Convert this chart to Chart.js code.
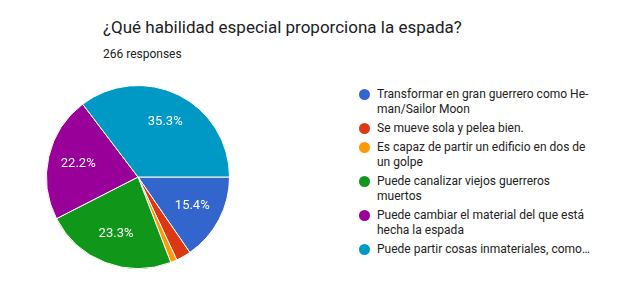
<!DOCTYPE html>
<html><head><meta charset="utf-8">
<script src="https://cdn.jsdelivr.net/npm/chart.js@4/dist/chart.umd.min.js"></script>
<style>
html,body{margin:0;padding:0;background:#fff;width:630px;height:293px;overflow:hidden;font-family:Roboto,Arial,sans-serif;}
#title{position:absolute;left:103px;top:17px;font-size:17px;color:#202124;white-space:nowrap;}
#sub{position:absolute;left:103px;top:47px;font-size:12px;color:#202124;}
#wrap{position:absolute;left:46px;top:85px;width:184px;height:184px;}
#legend{position:absolute;left:359px;top:87px;font-size:12px;color:#222;}
.item{position:relative;padding-left:18px;line-height:15px;margin-bottom:4px;white-space:nowrap;}
.dot{position:absolute;left:0;top:2px;width:11px;height:11px;border-radius:50%;}
</style></head>
<body>
<div id="title">¿Qué habilidad especial proporciona la espada?</div>
<div id="sub">266 responses</div>
<div id="wrap"><canvas id="c"></canvas></div>
<div id="legend"></div>
<script>
const categories = [
  "Transformar en gran guerrero como He-man/Sailor Moon",
  "Se mueve sola y pelea bien.",
  "Es capaz de partir un edificio en dos de un golpe",
  "Puede canalizar viejos guerreros muertos",
  "Puede cambiar el material del que está hecha la espada",
  "Puede partir cosas inmateriales, como…"
];
const legendLines = [
  ["Transformar en gran guerrero como He-", "man/Sailor Moon"],
  ["Se mueve sola y pelea bien."],
  ["Es capaz de partir un edificio en dos de", "un golpe"],
  ["Puede canalizar viejos guerreros", "muertos"],
  ["Puede cambiar el material del que está", "hecha la espada"],
  ["Puede partir cosas inmateriales, como…"]
];
const counts = [41, 7, 3, 62, 59, 94];
const colors = ["#3366cc", "#dc3912", "#ff9900", "#109618", "#990099", "#0099c6"];

const lg = document.getElementById('legend');
legendLines.forEach((lines, i) => {
  const d = document.createElement('div');
  d.className = 'item';
  d.innerHTML = '<span class="dot" style="background:' + colors[i] + '"></span>' + lines.join('<br>');
  lg.appendChild(d);
});

const pctPlugin = {
  id: 'pct',
  afterDatasetsDraw(chart) {
    const ctx = chart.ctx;
    const meta = chart.getDatasetMeta(0);
    const data = chart.data.datasets[0].data;
    const total = data.reduce((a, b) => a + b, 0);
    ctx.save();
    ctx.font = '13px Roboto, Arial, sans-serif';
    ctx.fillStyle = '#fff';
    ctx.textAlign = 'center';
    ctx.textBaseline = 'middle';
    meta.data.forEach((arc, i) => {
      const p = data[i] / total * 100;
      if (p < 5) return;
      const mid = (arc.startAngle + arc.endAngle) / 2;
      const r = arc.outerRadius * 0.67;
      ctx.fillText(p.toFixed(1) + '%', arc.x + Math.cos(mid) * r, arc.y + Math.sin(mid) * r);
    });
    ctx.restore();
  }
};

new Chart(document.getElementById('c'), {
  type: 'pie',
  data: { labels: categories, datasets: [{ data: counts, backgroundColor: colors, borderColor: '#fff', borderWidth: 1 }] },
  options: {
    responsive: true, maintainAspectRatio: false, animation: false,
    rotation: 90,
    layout: { padding: 0 },
    plugins: { legend: { display: false }, tooltip: { enabled: false } }
  },
  plugins: [pctPlugin]
});
</script>
</body></html>
